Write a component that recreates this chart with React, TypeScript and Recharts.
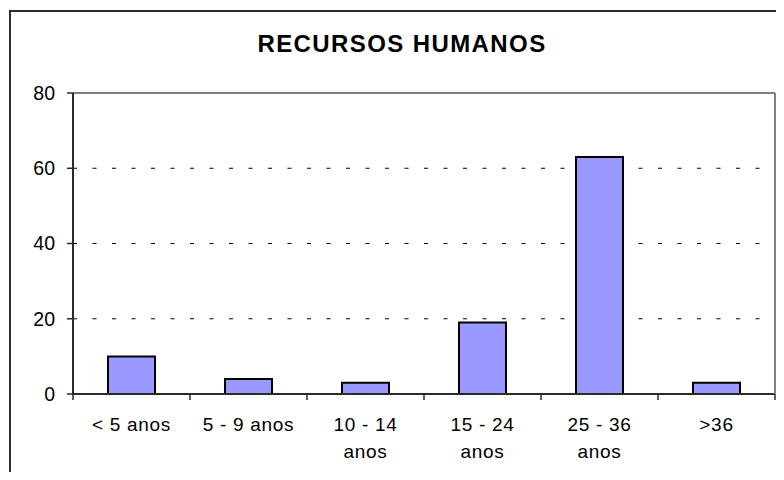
import React from 'react';
import { BarChart, Bar, XAxis, YAxis, CartesianGrid, ReferenceLine } from 'recharts';

const title = 'RECURSOS HUMANOS';
const categories = ['< 5 anos', '5 - 9 anos', '10 - 14\nanos', '15 - 24\nanos', '25 - 36\nanos', '>36'];
const values = [10, 4, 3, 19, 63, 3];
const yTicks = [0, 20, 40, 60, 80];

const data = categories.map((c, i) => ({ name: c, value: values[i] }));

const FONT = 'Arial, "Liberation Sans", sans-serif';
const AXIS = '#2b2b2b';

const XTick = (props: any) => {
  const { x, y, payload, index } = props;
  const half = payload && typeof payload.offset === 'number' && payload.offset > 0 ? payload.offset : 58.5;
  const lines = String(payload.value).split('\n');
  return (
    <g>
      <line x1={x - half} x2={x - half} y1={y} y2={y + 6} stroke={AXIS} strokeWidth={1.5} />
      {index === categories.length - 1 && (
        <line x1={x + half} x2={x + half} y1={y} y2={y + 6} stroke={AXIS} strokeWidth={1.5} />
      )}
      <text x={x} y={y + 36.7} textAnchor="middle" fontFamily={FONT} fontSize={19} letterSpacing={0.7} fill="#000">
        {lines.map((l, i) => (
          <tspan key={i} x={x} dy={i === 0 ? 0 : 27.6}>{l}</tspan>
        ))}
      </text>
    </g>
  );
};

export default function App() {
  return (
    <div style={{ position: 'relative', width: 768, height: 464, overflow: 'hidden', background: '#fff' }}>
      <div style={{ position: 'absolute', left: 1, top: 2, width: 900, height: 700, border: `2px solid ${AXIS}`, boxSizing: 'border-box' }} />
      <svg width={768} height={464} style={{ position: 'absolute', left: 0, top: 0, pointerEvents: 'none' }}>
        <text x={394} y={43.7} textAnchor="middle" fontFamily={FONT} fontWeight="bold" fontSize={24} letterSpacing={1.4} fill="#000">
          {title}
        </text>
      </svg>
      <div style={{ position: 'absolute', left: 0, top: 0 }}>
        <BarChart width={768} height={464} data={data} margin={{ top: 85, right: 0, bottom: 18, left: 5 }}>
          <CartesianGrid vertical={false} stroke="#000" strokeDasharray="4 15.5" />
          <XAxis
            dataKey="name"
            height={60}
            interval={0}
            tickLine={false}
            tickSize={0}
            tickMargin={0}
            axisLine={{ stroke: AXIS, strokeWidth: 2 }}
            tick={<XTick />}
          />
          <YAxis
            width={60}
            domain={[0, 80]}
            ticks={yTicks}
            interval={0}
            tickSize={6}
            tickMargin={12}
            axisLine={{ stroke: AXIS, strokeWidth: 2 }}
            tickLine={{ stroke: AXIS, strokeWidth: 1.5 }}
            tick={{ fontFamily: FONT, fontSize: 19.5, fill: '#000' }}
          />
          <YAxis
            yAxisId="r"
            orientation="right"
            width={1}
            domain={[0, 80]}
            tick={false}
            tickLine={false}
            axisLine={{ stroke: '#808080', strokeWidth: 2 }}
          />
          <ReferenceLine y={80} stroke="#808080" strokeWidth={2} />
          <Bar dataKey="value" fill="#9999FF" stroke="#000" strokeWidth={2} barSize={47} isAnimationActive={false} />
        </BarChart>
      </div>
    </div>
  );
}
